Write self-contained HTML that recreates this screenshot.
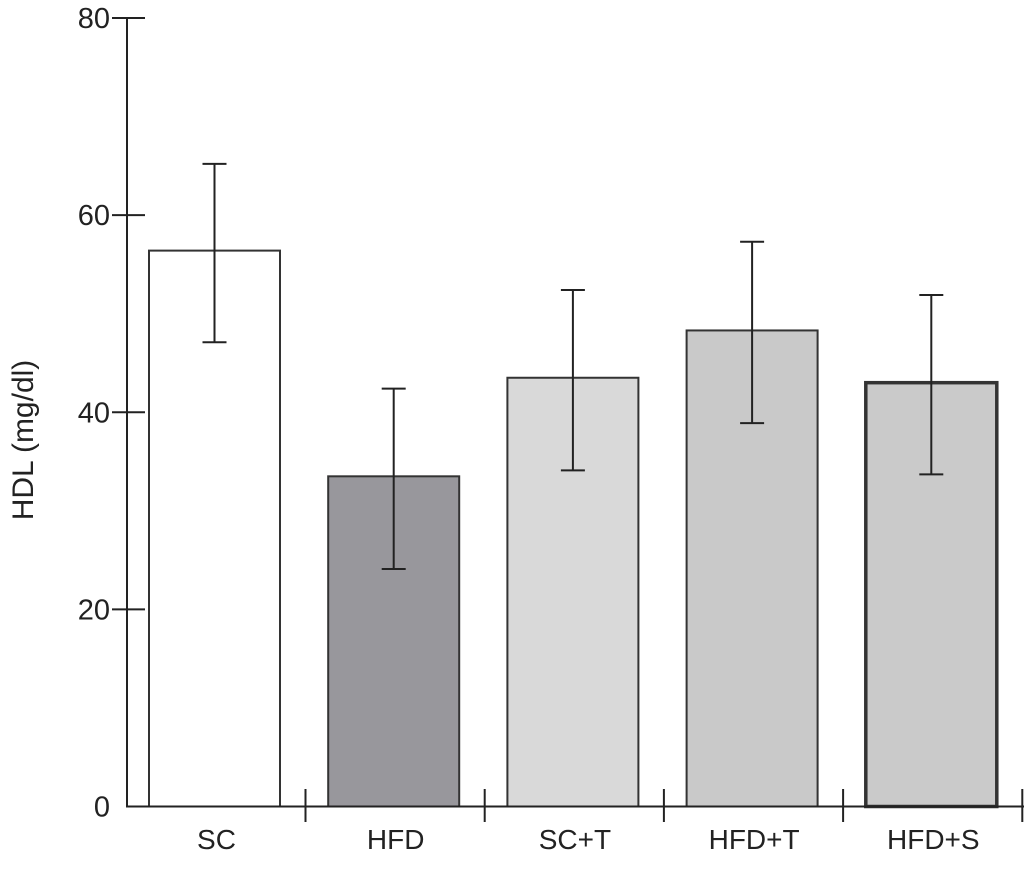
<!DOCTYPE html>
<html><head><meta charset="utf-8"><style>
body{margin:0;background:#fff;}
svg text{font-family:"Liberation Sans",Arial,sans-serif;fill:#222;}
</style></head><body>
<svg id="chart" width="1024" height="865" xmlns="http://www.w3.org/2000/svg"></svg>
<script>
const categories=["SC","HFD","SC+T","HFD+T","HFD+S"];
const values=[56.4,33.5,43.5,48.3,43.0];
const errUpper=[65.2,42.4,52.4,57.3,51.9];
const errLower=[47.1,24.1,34.1,38.9,33.7];
const fills=["#ffffff","#98979c","#d9d9d9","#c9c9c9","#cacaca"];
const strokeW=[2,2,2,2,3.5];
const yTicks=[0,20,40,60,80];

const svg=document.getElementById('chart');
const NS='http://www.w3.org/2000/svg';
const y0=806.5,pxPer=(806.5-18)/80,axisX=127,slot=179.2,barW=131,firstX=149;
function Y(v){return y0-v*pxPer;}
function X(i){return firstX+i*slot;}
function mk(tag,attrs){const e=document.createElementNS(NS,tag);for(const k in attrs)e.setAttribute(k,attrs[k]);svg.appendChild(e);return e;}

categories.forEach((c,i)=>{
  const b=mk('rect',{x:X(i),y:Y(values[i]),width:barW,height:y0-Y(values[i]),fill:fills[i],stroke:'#333','stroke-width':strokeW[i]});
  
  
  const cx=X(i)+barW/2;
  const g=document.createElementNS(NS,'g');
  
  
  svg.appendChild(g);
  [[cx,Y(errUpper[i]),cx,Y(errLower[i])],[cx-12,Y(errUpper[i]),cx+12,Y(errUpper[i])],[cx-12,Y(errLower[i]),cx+12,Y(errLower[i])]].forEach(l=>{
    const ln=document.createElementNS(NS,'line');
    ln.setAttribute('x1',l[0]);ln.setAttribute('y1',l[1]);ln.setAttribute('x2',l[2]);ln.setAttribute('y2',l[3]);
    ln.setAttribute('stroke','#222');ln.setAttribute('stroke-width','2');g.appendChild(ln);
  });
  const t=mk('text',{x:cx+2,y:849,'font-size':28,'text-anchor':'middle'});
  t.textContent=c;
  
  
  const tk=mk('line',{x1:X(i)+barW+25.5,y1:789,x2:X(i)+barW+25.5,y2:822,stroke:'#222','stroke-width':2});
  
  
});
const ya=mk('line',{x1:axisX,y1:17,x2:axisX,y2:y0+1,stroke:'#222','stroke-width':2});


const xa=mk('line',{x1:axisX,y1:y0,x2:1024,y2:y0,stroke:'#222','stroke-width':2});


yTicks.forEach(v=>{
  if(v>0){const tk=mk('line',{x1:112,y1:Y(v),x2:145,y2:Y(v),stroke:'#222','stroke-width':2});
  
  }
  const t=mk('text',{x:110,y:Y(v)+10,'font-size':29,'text-anchor':'end'});
  t.textContent=v;
  
  
});
const yt=mk('text',{x:0,y:0,'font-size':30,'text-anchor':'middle',transform:'translate(33,440) rotate(-90)'});
yt.textContent='HDL (mg/dl)';


</script>
</body></html>
